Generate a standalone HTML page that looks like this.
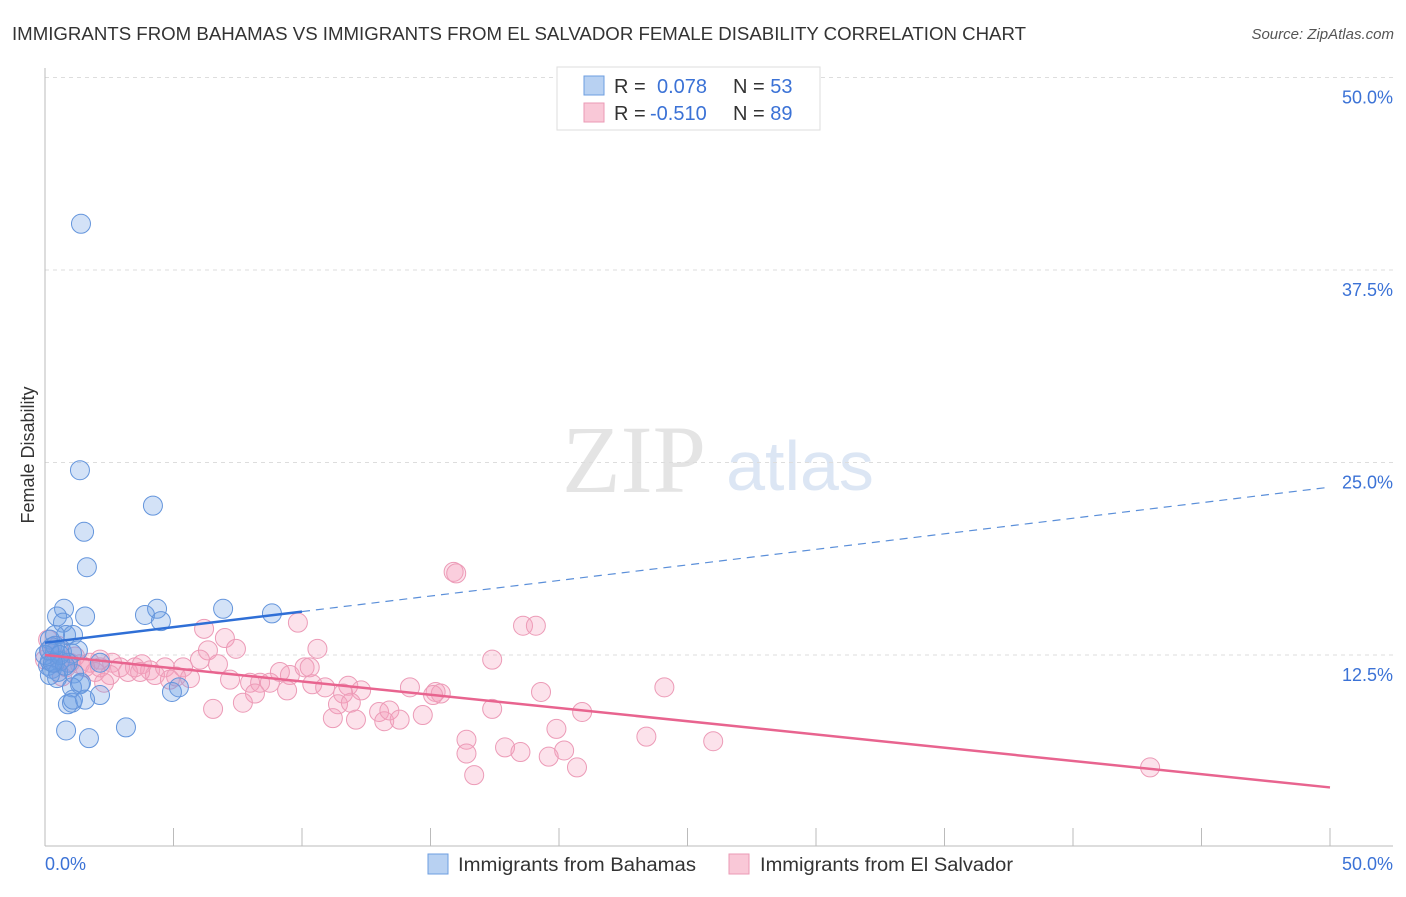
<!DOCTYPE html>
<html><head><meta charset="utf-8"><style>
body{margin:0;background:#fff;font-family:"Liberation Sans",sans-serif}
svg text{font-family:"Liberation Sans",sans-serif}
</style></head><body>
<svg id="c" width="1406" height="892">
<text x="12" y="40" font-size="18" fill="#333" textLength="1014" lengthAdjust="spacingAndGlyphs">IMMIGRANTS FROM BAHAMAS VS IMMIGRANTS FROM EL SALVADOR FEMALE DISABILITY CORRELATION CHART</text>
<text x="1394" y="39" font-size="15" fill="#555" font-style="italic" text-anchor="end">Source: ZipAtlas.com</text>
<text x="634" y="492" font-size="96" fill="#e4e4e4" text-anchor="middle" style="font-family:'Liberation Serif',serif">ZIP</text>
<text x="800" y="490" font-size="70" fill="#dce6f4" text-anchor="middle">atlas</text>
<text x="34" y="455" font-size="18" fill="#333" text-anchor="middle" transform="rotate(-90 34 455)">Female Disability</text>
<g id="grid"></g><g id="pts"></g><g id="trend"></g>
<g>
<rect x="557" y="67" width="263" height="63" fill="#fff" stroke="#ddd"/>
<rect x="584" y="76" width="20" height="19" fill="#b8d1f2" stroke="#6d9ee0"/>
<rect x="584" y="103" width="20" height="19" fill="#f9c8d7" stroke="#eb9ab5"/>
<text x="614" y="93" font-size="20" fill="#333">R = <tspan fill="#3b72d6" x="657">0.078</tspan><tspan x="733">N = </tspan><tspan fill="#3b72d6">53</tspan></text>
<text x="614" y="120" font-size="20" fill="#333">R = <tspan fill="#3b72d6" x="650">-0.510</tspan><tspan x="733">N = </tspan><tspan fill="#3b72d6">89</tspan></text>
</g>
<g>
<rect x="428" y="854" width="20" height="20" fill="#b8d1f2" stroke="#6d9ee0"/>
<text x="458" y="871" font-size="19" fill="#333" textLength="238" lengthAdjust="spacingAndGlyphs">Immigrants from Bahamas</text>
<rect x="729" y="854" width="20" height="20" fill="#f9c8d7" stroke="#eb9ab5"/>
<text x="760" y="871" font-size="19" fill="#333" textLength="253" lengthAdjust="spacingAndGlyphs">Immigrants from El Salvador</text>
</g>
</svg>
<script>
const yTicks=[12.5,25,37.5,50];
const yTickLabels=["12.5%","25.0%","37.5%","50.0%"];
const xTickLabels=["0.0%","50.0%"];
const blueX=[1.40,1.36,4.20,1.52,1.63,0.74,0.47,1.56,0.70,4.36,3.89,4.51,6.93,8.83,0.82,1.09,0.39,0.19,0.27,0.39,0.66,1.05,1.28,2.14,0.19,0.39,0.12,0.58,0.89,0.27,0.51,0.47,1.13,1.36,1.05,2.14,5.21,4.94,1.40,0.89,1.05,1.09,0.82,1.71,3.15,0.39,0.0,0.16,0.58,0.78,0.19,1.56,0.31];
const blueY=[40.5,24.5,22.2,20.5,18.2,15.5,15.0,15.0,14.6,15.5,15.1,14.7,15.5,15.2,13.8,13.8,13.8,13.5,13.0,12.7,12.7,12.6,12.8,12.0,12.1,12.0,11.8,12.1,12.0,11.6,11.4,11.0,11.3,10.6,10.4,9.9,10.4,10.1,10.7,9.3,9.4,9.6,7.6,7.1,7.8,13.1,12.5,12.8,12.5,11.8,11.2,9.6,12.0];
const pinkX=[15.9,16.0,18.6,19.1,9.84,6.19,7.0,7.43,6.34,10.6,17.4,2.61,2.14,1.75,0.58,0.97,1.36,2.92,3.50,3.77,4.09,4.67,5.37,6.73,6.03,7.20,7.98,8.37,8.75,9.14,9.53,10.1,10.3,9.42,8.17,7.70,6.54,5.10,5.64,4.28,2.53,3.23,2.30,10.4,10.9,11.8,12.3,11.6,11.4,11.9,11.2,13.0,13.2,13.4,13.8,12.1,14.2,15.2,15.4,15.1,14.7,17.4,19.3,20.9,19.9,17.9,16.4,16.4,16.7,18.5,20.2,19.6,20.7,23.4,26.0,24.1,43.0,0.82,1.17,0.19,0.12,0.51,1.95,1.56,0,0.66,2.14,3.70,4.86];
const pinkY=[17.9,17.8,14.4,14.4,14.6,14.2,13.6,12.9,12.8,12.9,12.2,12.0,12.2,12.0,12.2,12.0,11.9,11.7,11.7,11.9,11.5,11.7,11.7,11.9,12.2,10.9,10.7,10.7,10.7,11.4,11.2,11.7,11.7,10.2,10.0,9.4,9.0,11.1,11.0,11.2,11.2,11.4,10.7,10.6,10.4,10.5,10.2,10.0,9.3,9.4,8.4,8.8,8.2,8.9,8.3,8.3,10.4,10.1,10.0,9.9,8.6,9.0,10.1,8.8,7.7,6.5,7.0,6.1,4.7,6.2,6.3,5.9,5.2,7.2,6.9,10.4,5.2,11.7,12.4,12.8,13.5,13.1,11.4,11.7,12.2,11.1,11.7,11.4,10.9];
const blueTrend=[13.3,23.4];
const pinkTrend=[12.5,3.9];
const X=v=>45+v*25.7, Y=v=>847.5-v*15.4;
const NS="http://www.w3.org/2000/svg";
function mk(p,t,a){const e=document.createElementNS(NS,t);for(const k in a)e.setAttribute(k,a[k]);p.appendChild(e);return e;}
const grid=document.getElementById('grid');
yTicks.forEach((t,i)=>{
 const l=mk(grid,'line',{x1:45,x2:1393,y1:Y(t),y2:Y(t),stroke:'#ddd','stroke-dasharray':'4 4'});
 
 
 const tx=mk(grid,'text',{x:1393,y:Y(t)+26,'font-size':18,fill:'#3b72d6','text-anchor':'end'});
 tx.textContent=yTickLabels[i];
 
 
});
mk(grid,'line',{x1:45,x2:45,y1:68,y2:846,stroke:'#bbb'});
mk(grid,'line',{x1:45,x2:1393,y1:846,y2:846,stroke:'#bbb'});
for(let i=0;i<=10;i++){mk(grid,'line',{x1:X(i*5),x2:X(i*5),y1:828,y2:846,stroke:'#bbb'});}
[[0,'start',45],[50,'end',1393]].forEach((d,i)=>{
 const tx=mk(grid,'text',{x:d[2],y:870,'font-size':18,fill:'#3b72d6','text-anchor':d[1]});
 tx.textContent=xTickLabels[i];
 
 
});
const pts=document.getElementById('pts');
pinkX.forEach((x,i)=>{const c=mk(pts,'circle',{cx:X(x),cy:Y(pinkY[i]),r:9.5,fill:'rgba(245,160,190,0.3)',stroke:'#ec9bb7','stroke-width':1});
 
 });
blueX.forEach((x,i)=>{const c=mk(pts,'circle',{cx:X(x),cy:Y(blueY[i]),r:9.5,fill:'rgba(110,160,230,0.3)',stroke:'#6495dc','stroke-width':1});
 
 });
const tr=document.getElementById('trend');
const bAt=x=>blueTrend[0]+(blueTrend[1]-blueTrend[0])*x/50;
let l1=mk(tr,'line',{x1:X(0),y1:Y(bAt(0)),x2:X(10),y2:Y(bAt(10)),stroke:'#2f6fd6','stroke-width':2.5});


let l2=mk(tr,'line',{x1:X(10),y1:Y(bAt(10)),x2:X(50),y2:Y(bAt(50)),stroke:'#5b8fd9','stroke-width':1.2,'stroke-dasharray':'8 6'});


let l3=mk(tr,'line',{x1:X(0),y1:Y(pinkTrend[0]),x2:X(50),y2:Y(pinkTrend[1]),stroke:'#e8648f','stroke-width':2.5});


</script>
</body></html>
